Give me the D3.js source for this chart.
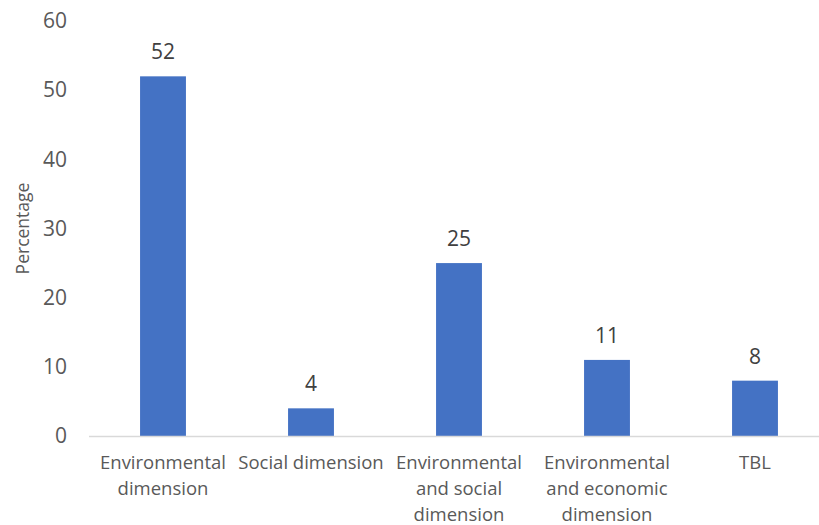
<!DOCTYPE html>
<html>
<head>
<meta charset="utf-8">
<script src="https://cdn.jsdelivr.net/npm/d3@7"></script>
<style>
  html, body { margin: 0; padding: 0; background: #fff; }
  svg { display: block; font-family: "Open Sans", "Noto Sans", sans-serif; }
</style>
</head>
<body>
<svg id="chart" width="819" height="525"></svg>
<script>
// Share of studies by sustainability dimension addressed
const categories = [
  ["Environmental", "dimension"],
  ["Social dimension"],
  ["Environmental", "and social", "dimension"],
  ["Environmental", "and economic", "dimension"],
  ["TBL"]
];
const values = [52, 4, 25, 11, 8];
const yTicks = [0, 10, 20, 30, 40, 50, 60];

const svg = d3.select("#chart");
const margin = { left: 89, right: -10, top: 21, bottom: 89 };
const W = 819, H = 525;

const keys = categories.map(c => c.join(" "));
const x = d3.scaleBand().domain(keys).range([margin.left, W - margin.right]).paddingInner(0.69).paddingOuter(0.345);
const y = d3.scaleLinear().domain([0, 60]).range([H - margin.bottom, margin.top]);

const textColor = "#595959";

// y-axis tick labels
const yAxis = svg.append("g")
  .attr("transform", `translate(${margin.left - 22},0)`)
  .call(d3.axisLeft(y).tickValues(yTicks).tickSize(0).tickPadding(0));
yAxis.select(".domain").remove();
yAxis.selectAll("text").attr("fill", textColor).style("font-size", "21px").attr("font-family", "Open Sans, Noto Sans, sans-serif");

// bars
svg.append("g").selectAll("rect")
  .data(values)
  .join("rect")
  .attr("x", (d, i) => x(keys[i]))
  .attr("width", x.bandwidth())
  .attr("y", d => y(d))
  .attr("height", d => y(0) - y(d))
  .attr("fill", "#4472C4");

// baseline
svg.append("line")
  .attr("x1", margin.left).attr("x2", W)
  .attr("y1", y(0) + 0.5).attr("y2", y(0) + 0.5)
  .attr("stroke", "#d9d9d9").attr("stroke-width", 1.5);

// value labels
svg.append("g").selectAll("text")
  .data(values)
  .join("text")
  .attr("x", (d, i) => x(keys[i]) + x.bandwidth() / 2)
  .attr("y", d => y(d) - 17)
  .attr("text-anchor", "middle")
  .attr("fill", "#404040")
  .style("font-size", "21px")
  .text(d => d);

// category labels
const xAxis = svg.append("g");
categories.forEach((lines, i) => {
  const cx = x(keys[i]) + x.bandwidth() / 2;
  const t = xAxis.append("text")
    .attr("x", cx)
    .attr("y", y(0) + 33)
    .attr("text-anchor", "middle")
    .attr("fill", textColor)
    .style("font-size", "18.5px");
  lines.forEach((ln, j) => {
    t.append("tspan")
      .attr("x", cx)
      .attr("dy", j === 0 ? 0 : 26)
      .text(ln);
  });
});

// y-axis title
svg.append("text")
  .attr("transform", `translate(29,${(margin.top + y(0)) / 2}) rotate(-90)`)
  .attr("text-anchor", "middle")
  .attr("fill", textColor)
  .style("font-size", "17.5px")
  .text("Percentage");
</script>
</body>
</html>
